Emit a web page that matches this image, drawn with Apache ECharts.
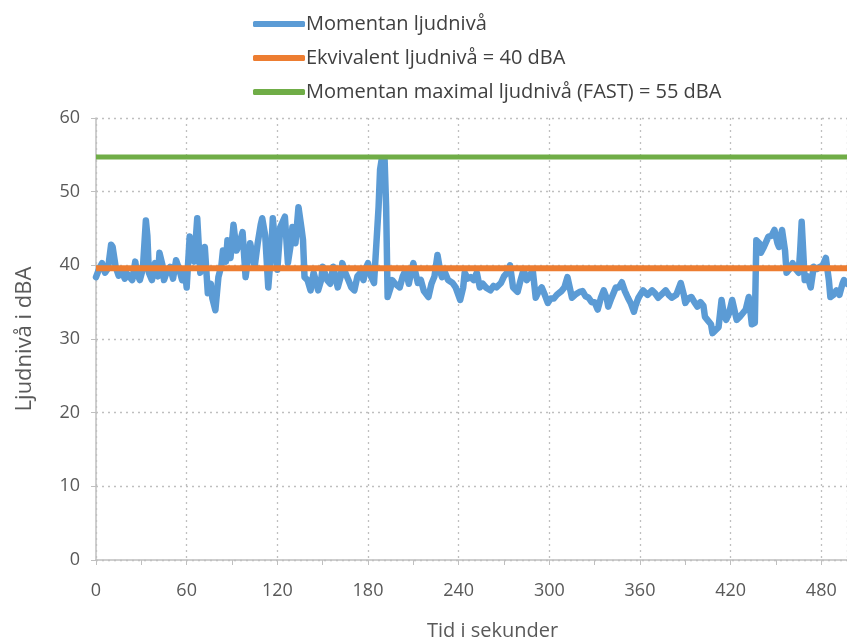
<!DOCTYPE html>
<html>
<head>
<meta charset="utf-8">
<script src="https://cdn.jsdelivr.net/npm/echarts@6/dist/echarts.min.js"></script>
<style>html,body{margin:0;padding:0;background:#fff}#c{width:847px;height:641px}</style>
</head>
<body>
<div id="c"></div>
<script>
// Time (s) and momentary level (dBA)
const timeSec = [0,2,4,6,8,10,11,13,15,17,19,20,22,24,26,27,29,31,33,34,35,37,39,41,42,44,45,47,49,51,53,55,57,59,60,62,64,65,67,69,71,72,74,76,77,79,81,83,84,86,87,89,91,93,95,97,99,100,102,104,105,107,109,110,112,114,116,117,119,120,122,125,127,129,130,132,134,136,137,138,140,142,144,146,147,149,150,153,155,157,160,162,163,165,167,169,171,173,175,177,179,180,182,184,185,187,188,189,191,192,193,195,196,198,201,203,205,207,208,210,212,213,215,217,220,222,224,226,228,229,231,233,236,238,241,243,244,246,248,250,252,254,256,258,261,263,265,268,270,272,274,276,279,281,283,285,287,289,291,293,295,297,299,301,303,305,308,310,312,315,317,320,322,324,326,328,330,332,334,336,338,339,341,344,346,348,350,352,354,356,357,359,362,365,368,370,372,375,377,379,381,384,387,389,390,392,394,396,398,400,402,403,405,407,408,410,412,414,415,417,419,421,423,424,426,428,430,432,434,436,437,439,440,442,445,447,449,451,452,454,456,457,459,461,463,465,466,467,468,469,471,473,475,477,479,481,483,485,486,488,490,492,494,495,497];
const levelDBA = [38.4,39.5,40.3,39.0,39.6,42.8,42.5,39.8,38.6,39.3,38.2,39.0,38.5,38.0,40.5,39.0,38.0,39.5,46.1,44,39.0,38.0,40.3,38.5,41.7,40,38.0,39.2,39.8,38.2,40.7,39.5,38.0,39,37.0,43.9,41.7,40.5,46.4,39.0,41,42.5,36.2,37.5,35.5,33.9,38.4,40,42.0,40.5,43.4,41,45.5,42.0,43,44.5,38.4,40,43.0,41,39.8,43,45.5,46.4,44,37.0,42,46.4,42,39.4,45.2,46.6,40.3,43,45.2,43.0,47.9,45,43.4,38.4,38,36.6,39.0,37.5,36.6,38,39.8,38.0,37.5,39.8,37.0,38.5,40.3,39.0,38,37.0,36.6,38.5,39.0,38,39.8,40.3,38.5,37.6,37.6,47.9,53,54.3,54.3,48,35.7,37,38.0,37.5,37.0,38.5,39.4,37.5,38.5,40.3,38.5,37.6,38,36.5,35.7,37.5,38.5,41.4,39,38.4,39,38,37.6,37,35.3,37,39.0,38.2,38.4,38,39.0,37.0,37.5,37,36.6,37.2,37,37.6,38.5,39,40.0,37.0,36.4,38,39.4,38,38.5,39.4,35.6,36.5,37.0,36,34.9,35.5,35.5,36.0,36.5,37,38.4,35.6,36,36.4,36.5,35.8,35.6,35,35,34,35.5,36.6,35.5,34.4,35.5,37.0,37,37.7,36.5,35.6,34.8,33.7,34.5,35.6,36.6,36,36.6,36.2,35.6,36.2,36.6,36,35.6,36,37.6,36,34.9,35.5,35.7,35.0,34.4,35,34.5,33.0,32.5,32,30.8,31.2,31.6,35.3,34,32.6,33.5,35.3,33.5,32.6,33,33.5,34,35.7,32,32.2,43.4,43,41.7,42.5,43.9,44,44.8,43,42.5,44.8,42,39.0,39.5,40.3,39.5,39.0,42,45.9,42,38.0,38.5,37.0,39.8,39.5,39.8,40,41.0,38,35.7,36,36.6,36,37.5,38.0,37.5];
const equivLevel = 39.6;
const maxFastLevel = 54.7;
const seriesNames = ['Momentan ljudnivå','Ekvivalent ljudnivå = 40 dBA','Momentan maximal ljudnivå (FAST) = 55 dBA'];
const xMax = 497;

const chart = echarts.init(document.getElementById('c'), null, {renderer:'canvas'});
const blueData = timeSec.map((t,i)=>[t, levelDBA[i]]);
const font = '"Open Sans", sans-serif';
chart.setOption({
  animation:false,
  textStyle:{fontFamily:font},
  legend:{
    orient:'vertical', left:248, top:8, itemWidth:52, itemHeight:6, itemGap:12,
    icon:'roundRect',
    textStyle:{fontSize:20, lineHeight:22, color:'#404040', fontFamily:font, padding:[0,0,0,-4]},
    data:seriesNames
  },
  grid:{left:96, top:118, right:0, height:442, containLabel:false, outerBoundsMode:'none'},
  xAxis:{
    type:'value', min:0, max:xMax, interval:60,
    name:'Tid i sekunder', nameLocation:'middle', nameGap:61,
    nameTextStyle:{fontSize:20, color:'#595959', fontFamily:font, padding:[0,0,0,42]},
    axisLine:{show:true, onZero:false, lineStyle:{color:'#bfbfbf', width:1.5}},
    axisTick:{show:true, length:5, lineStyle:{color:'#bfbfbf'}},
    minorTick:{show:true, splitNumber:2, length:5, lineStyle:{color:'#bfbfbf'}},
    axisLabel:{fontSize:18, color:'#595959', margin:22, fontFamily:font, showMaxLabel:false},
    splitLine:{show:true, lineStyle:{color:'#bfbfbf', type:[2,4], width:1.3}}
  },
  yAxis:{
    type:'value', min:0, max:60, interval:10,
    name:'Ljudnivå i dBA', nameLocation:'middle', nameGap:60,
    nameTextStyle:{fontSize:22, color:'#595959', fontFamily:font},
    axisLine:{show:true, lineStyle:{color:'#bfbfbf', width:1.5}},
    axisTick:{show:true, length:5, lineStyle:{color:'#bfbfbf'}},
    axisLabel:{fontSize:18, color:'#595959', margin:16, fontFamily:font},
    splitLine:{show:true, lineStyle:{color:'#bfbfbf', type:[2,4], width:1.3}}
  },
  series:[
    {name:seriesNames[0], type:'line', data:blueData, showSymbol:false, symbol:'none',
     lineStyle:{color:'#5b9bd5', width:6.5, join:'round', cap:'round'}, itemStyle:{color:'#5b9bd5'}},
    {name:seriesNames[1], type:'line', data:[[0,equivLevel],[xMax,equivLevel]], showSymbol:false, symbol:'none',
     lineStyle:{color:'#ed7d31', width:6}, itemStyle:{color:'#ed7d31'}},
    {name:seriesNames[2], type:'line', data:[[0,maxFastLevel],[xMax,maxFastLevel]], showSymbol:false, symbol:'none',
     lineStyle:{color:'#70ad47', width:5}, itemStyle:{color:'#70ad47'}}
  ]
});
</script>
</body>
</html>
